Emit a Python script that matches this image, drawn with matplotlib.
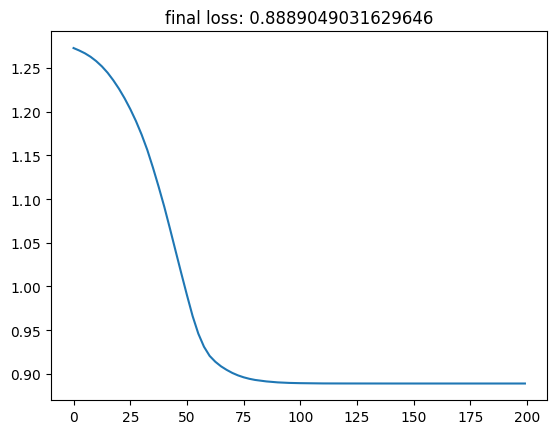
import matplotlib
matplotlib.use("Agg")
import matplotlib.pyplot as plt

# loss (epoch -> loss)
epochs = [0, 2.5, 5, 7.5, 10, 12.5, 15, 17.5, 20, 22.5, 25, 27.5, 30, 32.5,
          35, 37.5, 40, 42.5, 45, 47.5, 50, 52.5, 55, 57.5, 60, 62.5, 65,
          67.5, 70, 72.5, 75, 77.5, 80, 85, 90, 95, 100, 110, 120, 140, 160,
          199]
losses = [1.2728, 1.2700, 1.2668, 1.2628, 1.2578, 1.2518, 1.2446, 1.2360,
          1.2263, 1.2153, 1.2030, 1.1893, 1.1738, 1.1563, 1.1360, 1.1142,
          1.0912, 1.0662, 1.0405, 1.0150, 0.9900, 0.9660, 0.9460, 0.9310,
          0.9205, 0.9138, 0.9086, 0.9045, 0.9010, 0.8982, 0.8960, 0.8943,
          0.8930, 0.8913, 0.8902, 0.8896, 0.8893, 0.8890, 0.88895, 0.88891,
          0.88890, 0.8889049]
final_loss = 0.8889049031629646

fig = plt.figure(figsize=(5.56, 4.35), dpi=100)
ax = fig.add_axes([0.0917, 0.0775, 0.893, 0.8483])
ax.plot(epochs, losses)
ax.set_title(f"final loss: {final_loss}")
ax.set_xticks([0, 25, 50, 75, 100, 125, 150, 175, 200])

fig.savefig("out.png", dpi=100)
